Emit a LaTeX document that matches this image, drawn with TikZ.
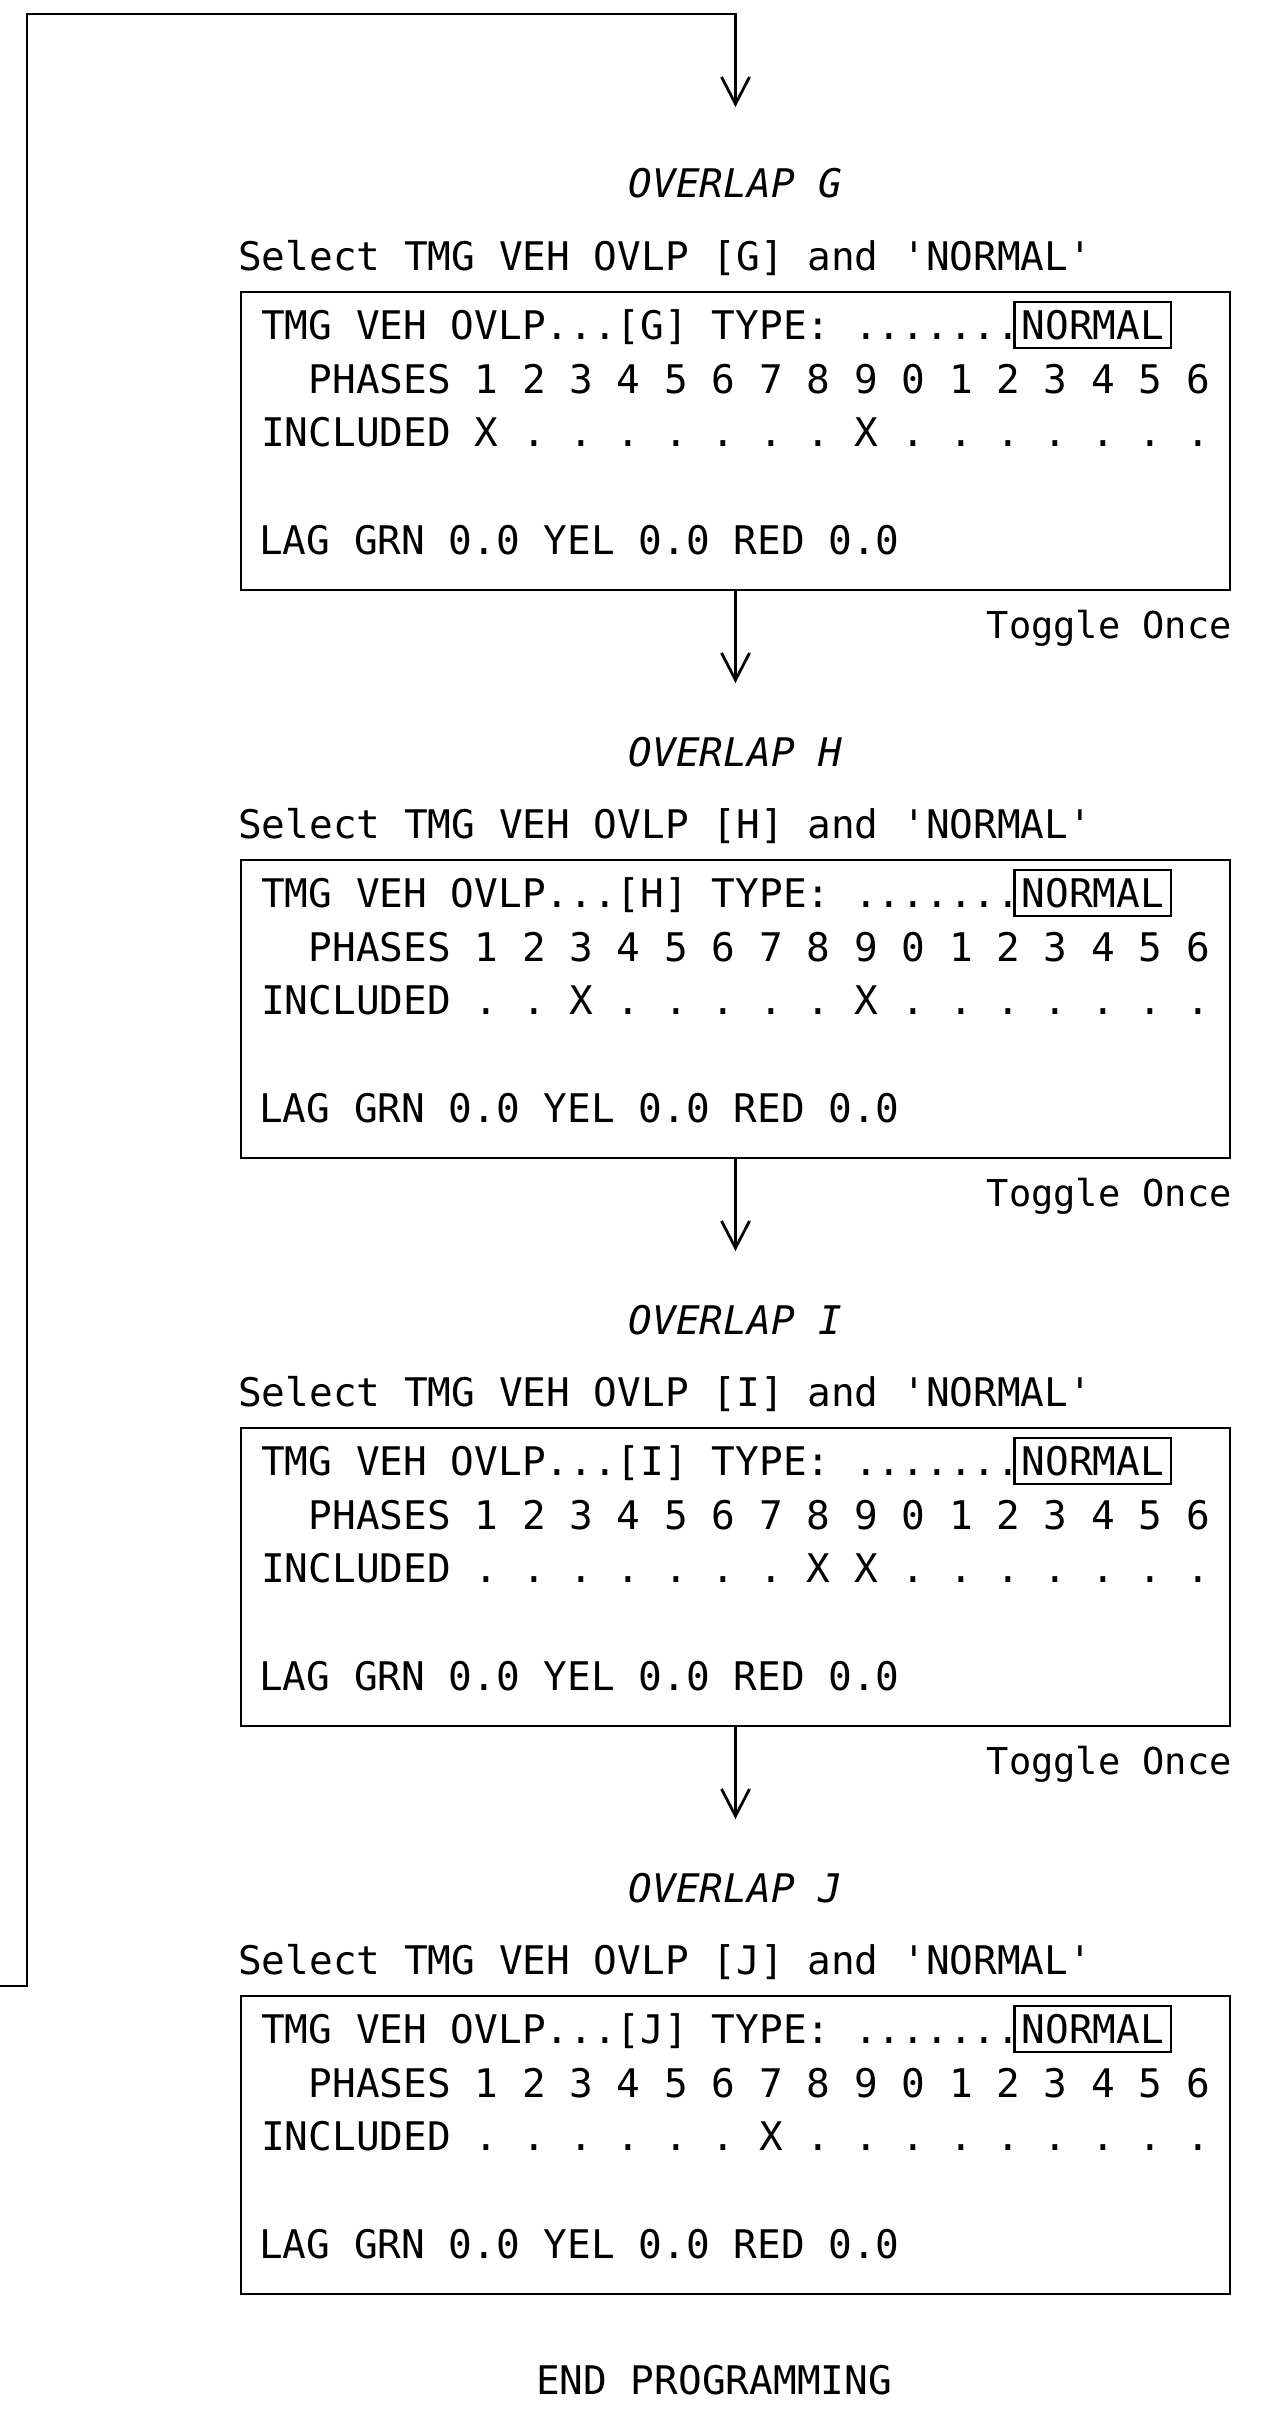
\documentclass[tikz,border=0pt]{standalone}
\usepackage{fontspec}
\newfontfamily\cadfont{DejaVu Sans Mono}
\usetikzlibrary{arrows.meta, positioning}

\tikzset{
  cad/.style={font={\cadfont\fontsize{39.4pt}{47pt}\selectfont\frenchspacing}, inner sep=0pt},
  txt/.style={cad, anchor=base west},
  panel/.style={draw, line width=2.8pt, minimum width=989pt, minimum height=298pt, inner sep=0pt},
  normbox/.style={cad, draw, line width=2.6pt, anchor=base west, text height=29pt, text depth=1pt,
    inner xsep=7pt, inner ysep=8pt, xshift=-7pt},
  flow/.style={line width=2.8pt, -{Straight Barb[length=27pt, width=28pt]}},
}

\begin{document}
\begin{tikzpicture}[x=1pt, y=-1pt]
  \useasboundingbox (0,0) rectangle (1275,2427);

  % one panel per overlap
  \foreach \ltr/\inc [count=\k from 0] in {G/{X . . . . . . . X . . . . . . .},
      H/{. . X . . . . . X . . . . . . .},
      I/{. . . . . . . X X . . . . . . .},
      J/{. . . . . . X . . . . . . . . .}} {
    \pgfmathsetmacro\dy{568*\k}
    \node[cad, anchor=base] (ttl\ltr) at (735.5, 198+\dy) {\itshape OVERLAP \ltr};
    \node[txt] (sel\ltr) at (238, 270+\dy) {Select TMG VEH OVLP [\ltr] and 'NORMAL'};
    \node[panel] (box\ltr) at (735.5, 441+\dy) {};
    \node[txt] (typ\ltr) at (261, 339+\dy) {TMG VEH OVLP...[\ltr] TYPE: .......};
    \node[normbox] (nrm\ltr) at (typ\ltr.base east) {NORMAL};
    \node[txt] (phs\ltr) at (308.4, 393.5+\dy) {PHASES 1 2 3 4 5 6 7 8 9 0 1 2 3 4 5 6};
    \node[txt] (inc\ltr) at (261, 446+\dy) {INCLUDED \inc};
    \node[txt] (lag\ltr) at (259, 554+\dy) {LAG GRN 0.0 YEL 0.0 RED 0.0};
    \coordinate (out\ltr) at (735.5, 683+\dy);
    \ifnum\k<3
      \node[cad, anchor=base east, font={\cadfont\fontsize{37pt}{44pt}\selectfont}] (tgl\ltr)
        at (1232, 638+\dy) {Toggle Once};
      \draw[flow] (box\ltr.south) -- (out\ltr);
    \fi
  }

  \node[cad, anchor=base] (endp) at (714, 2394) {END PROGRAMMING};

  % return line into the first panel
  \coordinate (ret) at (0,1986);
  \coordinate (inG) at (735.5,107);
  \draw[flow] (ret) -- ++(27,0) -- ++(0,-1972) -| (inG);
\end{tikzpicture}
\end{document}
